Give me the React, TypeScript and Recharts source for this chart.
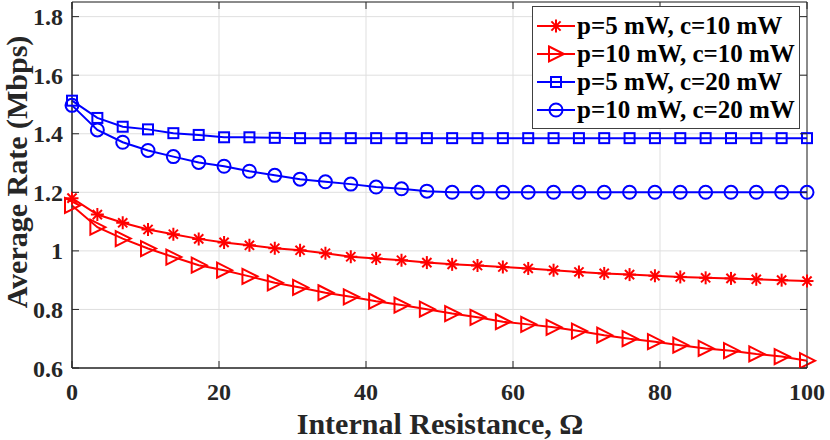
import React from "react";
import {
  LineChart,
  Line,
  XAxis,
  YAxis,
  CartesianGrid,
  ReferenceArea,
  Legend,
} from "recharts";

// internal resistance (ohm), 30 samples
const resistance = [
  0, 3.45, 6.9, 10.34, 13.79, 17.24, 20.69, 24.14, 27.59, 31.03, 34.48, 37.93,
  41.38, 44.83, 48.28, 51.72, 55.17, 58.62, 62.07, 65.52, 68.97, 72.41, 75.86,
  79.31, 82.76, 86.21, 89.66, 93.1, 96.55, 100,
];

const rateP5C10 = [
  1.18, 1.124, 1.096, 1.073, 1.057, 1.041, 1.029, 1.019, 1.009, 1.002, 0.992,
  0.98, 0.974, 0.968, 0.96, 0.954, 0.95, 0.945, 0.94, 0.934, 0.928, 0.923,
  0.919, 0.915, 0.911, 0.908, 0.906, 0.903, 0.9, 0.897,
];
const rateP10C10 = [
  1.155, 1.081, 1.042, 1.008, 0.979, 0.951, 0.934, 0.913, 0.891, 0.875, 0.857,
  0.843, 0.828, 0.815, 0.801, 0.786, 0.773, 0.758, 0.749, 0.739, 0.726, 0.712,
  0.7, 0.69, 0.678, 0.667, 0.659, 0.648, 0.639, 0.625,
];
const rateP5C20 = [
  1.513, 1.454, 1.424, 1.415, 1.402, 1.396, 1.388, 1.388, 1.386, 1.385, 1.385,
  1.385, 1.385, 1.385, 1.385, 1.385, 1.385, 1.385, 1.385, 1.385, 1.385, 1.385,
  1.385, 1.385, 1.385, 1.385, 1.385, 1.385, 1.385, 1.385,
];
const rateP10C20 = [
  1.497, 1.413, 1.371, 1.343, 1.322, 1.302, 1.289, 1.272, 1.258, 1.245, 1.236,
  1.228, 1.218, 1.212, 1.204, 1.2, 1.2, 1.2, 1.2, 1.2, 1.2, 1.2, 1.2, 1.2, 1.2,
  1.2, 1.2, 1.2, 1.2, 1.2,
];

const xTicks = [0, 20, 40, 60, 80, 100];
const yTicks = [0.6, 0.8, 1, 1.2, 1.4, 1.6, 1.8];
const seriesNames = [
  "p=5 mW, c=10 mW",
  "p=10 mW, c=10 mW",
  "p=5 mW, c=20 mW",
  "p=10 mW, c=20 mW",
];

const chartData = resistance.map((r, i) => ({
  r,
  s1: rateP5C10[i],
  s2: rateP10C10[i],
  s3: rateP5C20[i],
  s4: rateP10C20[i],
}));

const FONT = '"Liberation Serif", "Times New Roman", serif';
const AXIS = "#262626";
const GRID = "#dfdfdf";
const RED = "#ff0000";
const BLUE = "#0000ff";
// plot box in pixels (used for tick marks and margins)
const PLOT = { left: 72, right: 807, top: 2, bottom: 368 };

type Shape = "star" | "tri" | "square" | "circle";

const Marker = ({ cx, cy, shape, color }: { cx: number; cy: number; shape: Shape; color: string }) => {
  const common = { stroke: color, strokeWidth: 2, fill: "none" };
  if (shape === "star") {
    const r = 6.5;
    const d = 4.6;
    return (
      <g {...common}>
        <line x1={cx - r} y1={cy} x2={cx + r} y2={cy} />
        <line x1={cx} y1={cy - r} x2={cx} y2={cy + r} />
        <line x1={cx - d} y1={cy - d} x2={cx + d} y2={cy + d} />
        <line x1={cx - d} y1={cy + d} x2={cx + d} y2={cy - d} />
      </g>
    );
  }
  if (shape === "tri") {
    return (
      <polygon
        {...common}
        points={`${cx - 7},${cy - 7.5} ${cx + 8},${cy} ${cx - 7},${cy + 7.5}`}
      />
    );
  }
  if (shape === "square") {
    return <rect {...common} x={cx - 5} y={cy - 5} width={10} height={10} />;
  }
  return <circle {...common} cx={cx} cy={cy} r={6.5} />;
};

const series: { key: string; name: string; color: string; shape: Shape }[] = [
  { key: "s1", name: seriesNames[0], color: RED, shape: "star" },
  { key: "s2", name: seriesNames[1], color: RED, shape: "tri" },
  { key: "s3", name: seriesNames[2], color: BLUE, shape: "square" },
  { key: "s4", name: seriesNames[3], color: BLUE, shape: "circle" },
];

const XTick = (props: any) => {
  const { x, payload } = props;
  return (
    <g>
      <line x1={x} x2={x} y1={PLOT.bottom} y2={PLOT.bottom - 7} stroke={AXIS} />
      <line x1={x} x2={x} y1={PLOT.top} y2={PLOT.top + 7} stroke={AXIS} />
      <text
        x={x}
        y={400}
        textAnchor="middle"
        fontFamily={FONT}
        fontWeight="bold"
        fontSize={24}
        fill={AXIS}
      >
        {payload.value}
      </text>
    </g>
  );
};

const YTick = (props: any) => {
  const { y, payload } = props;
  return (
    <g>
      <line x1={PLOT.left} x2={PLOT.left + 7} y1={y} y2={y} stroke={AXIS} />
      <line x1={PLOT.right} x2={PLOT.right - 7} y1={y} y2={y} stroke={AXIS} />
      <text
        x={63}
        y={y + 8.5}
        textAnchor="end"
        fontFamily={FONT}
        fontWeight="bold"
        fontSize={24}
        fill={AXIS}
      >
        {payload.value}
      </text>
    </g>
  );
};

const renderXTitle = () => (
  <text
    x={440}
    y={434}
    textAnchor="middle"
    fontFamily={FONT}
    fontWeight="bold"
    fontSize={30}
    fill={AXIS}
  >
    Internal Resistance, Ω
  </text>
);

const renderYTitle = () => (
  <text
    x={27}
    y={172}
    transform="rotate(-90 27 172)"
    textAnchor="middle"
    fontFamily={FONT}
    fontWeight="bold"
    fontSize={30}
    fill={AXIS}
  >
    Average Rate (Mbps)
  </text>
);

const LegendBox = () => (
  <div
    style={{
      width: 266,
      height: 116,
      border: "1px solid #404040",
      background: "#fff",
      paddingTop: 5,
      boxSizing: "content-box",
    }}
  >
    {series.map((s) => (
      <div
        key={s.key}
        style={{ display: "flex", alignItems: "center", height: 28, paddingLeft: 4 }}
      >
        <svg width={38} height={20} style={{ marginRight: 2 }}>
          <line x1={0} y1={10} x2={38} y2={10} stroke={s.color} strokeWidth={2} />
          <Marker cx={19} cy={10} shape={s.shape} color={s.color} />
        </svg>
        <span
          style={{
            fontFamily: FONT,
            fontWeight: "bold",
            fontSize: 25,
            color: "#000",
            whiteSpace: "nowrap",
            lineHeight: "28px",
          }}
        >
          {s.name}
        </span>
      </div>
    ))}
  </div>
);

export default function App() {
  return (
    <div style={{ position: "absolute", left: 0, top: 0, width: 830, height: 440, background: "#fff" }}>
      <LineChart
        width={830}
        height={440}
        data={chartData}
        margin={{ top: PLOT.top, right: 830 - PLOT.right, bottom: 0, left: 0 }}
      >
        <CartesianGrid stroke={GRID} strokeWidth={1} />
        <XAxis
          dataKey="r"
          type="number"
          domain={[0, 100]}
          ticks={xTicks}
          height={440 - PLOT.bottom}
          tickLine={false}
          axisLine={{ stroke: AXIS }}
          tick={<XTick />}
          label={renderXTitle}
          interval={0}
        />
        <YAxis
          type="number"
          domain={[0.6, 1.85]}
          ticks={yTicks}
          width={PLOT.left}
          tickLine={false}
          axisLine={{ stroke: AXIS }}
          tick={<YTick />}
          label={renderYTitle}
          interval={0}
          allowDataOverflow
        />
        <ReferenceArea
          x1={0}
          x2={100}
          y1={0.6}
          y2={1.85}
          fill="none"
          stroke={AXIS}
          strokeWidth={1}
          ifOverflow="visible"
        />
        {series.map((s) => (
          <Line
            key={s.key}
            dataKey={s.key}
            name={s.name}
            type="linear"
            stroke={s.color}
            strokeWidth={2}
            isAnimationActive={false}
            dot={(p: any) => (
              <Marker key={`${s.key}-${p.index}`} cx={p.cx} cy={p.cy} shape={s.shape} color={s.color} />
            )}
          />
        ))}
        <Legend
          layout="vertical"
          align="center"
          verticalAlign="middle"
          content={<LegendBox />}
          wrapperStyle={{ left: 532, top: 6, width: 268, margin: 0 }}
        />
      </LineChart>
    </div>
  );
}
